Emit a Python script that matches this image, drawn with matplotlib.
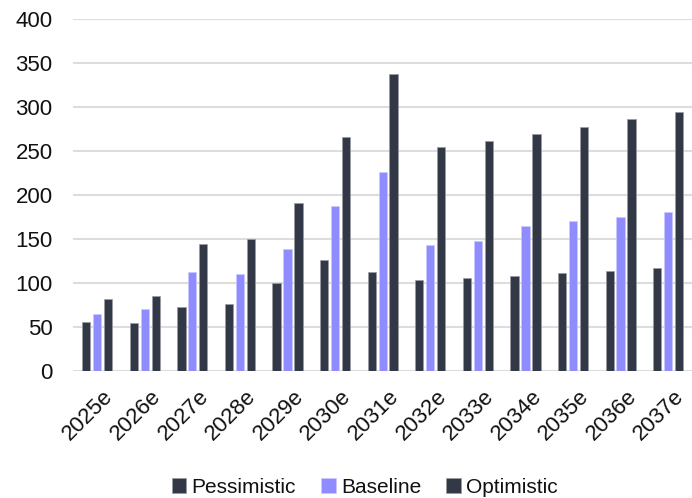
import matplotlib
matplotlib.use("Agg")
import matplotlib.pyplot as plt
import matplotlib.transforms as mtransforms
import numpy as np

plt.rcParams['font.family'] = ['Liberation Sans', 'DejaVu Sans']

years = ["2025e", "2026e", "2027e", "2028e", "2029e", "2030e", "2031e",
         "2032e", "2033e", "2034e", "2035e", "2036e", "2037e"]
pessimistic = [56, 55, 73, 76, 100, 126, 112, 103, 106, 108, 111, 114, 117]
baseline = [65, 71, 112, 110, 139, 188, 226, 143, 148, 165, 170, 175, 181]
optimistic = [82, 85, 144, 150, 191, 266, 337, 254, 261, 269, 277, 286, 294]

dark = "#323846"
purple = "#8f8cff"

fig = plt.figure(figsize=(6.92, 4.98), dpi=100)
ax = fig.add_axes([0.106, 0.255, 0.894, 0.707])

x = np.arange(len(years))
w = 0.175
gap = 0.055
ax.bar(x - (w + gap), pessimistic, w, color=dark, edgecolor="#9a9ca3", linewidth=0.5, label="Pessimistic", zorder=3)
ax.bar(x, baseline, w, color=purple, edgecolor="#c9c8ff", linewidth=0.5, label="Baseline", zorder=3)
ax.bar(x + (w + gap), optimistic, w, color=dark, edgecolor="#9a9ca3", linewidth=0.5, label="Optimistic", zorder=3)

ax.set_xlim(-0.5, len(years) - 0.5)
ax.set_ylim(0, 400)
ax.set_yticks(range(0, 401, 50))
ax.grid(axis="y", color="#dddddd", linewidth=1.5, zorder=0)
for s in ax.spines.values():
    s.set_visible(False)
ax.tick_params(axis="y", length=0, pad=15, labelsize=16, labelcolor="#111111")
ax.tick_params(axis="x", length=0, pad=11, labelsize=16, labelcolor="#111111")
ax.set_xticks(x)
ax.set_xticklabels(years, rotation=45, ha="right", rotation_mode="anchor")
offset = mtransforms.ScaledTranslation(4 / 72, 0, fig.dpi_scale_trans)
for lbl in ax.get_xticklabels():
    lbl.set_transform(lbl.get_transform() + offset)

fig.legend(loc="center", bbox_to_anchor=(0.527, 0.022), ncol=3, frameon=False,
           fontsize=15, handlelength=0.7, handleheight=0.7, handletextpad=0.25,
           columnspacing=1.2, labelcolor="#111111")

fig.savefig("out.png", dpi=100)
